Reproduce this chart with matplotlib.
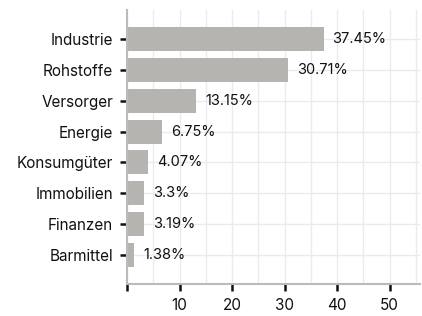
import numpy as np
import matplotlib.pyplot as plt
from matplotlib.ticker import MultipleLocator

categories = ["Industrie", "Rohstoffe", "Versorger", "Energie",
              "Konsumgüter", "Immobilien", "Finanzen", "Barmittel"]
values = [37.45, 30.71, 13.15, 6.75, 4.07, 3.3, 3.19, 1.38]
labels = ["37.45%", "30.71%", "13.15%", "6.75%", "4.07%", "3.3%", "3.19%", "1.38%"]
xticks = [0, 10, 20, 30, 40, 50]

plt.rcParams['font.family'] = ['Inter', 'DejaVu Sans']

fig = plt.figure(figsize=(4.22, 3.16), dpi=100)
ax = fig.add_axes([127 / 422, 1 - 284 / 316, 293 / 422, 274 / 316])

y = np.arange(len(categories))
ax.barh(y, values, height=0.78, color="#b5b4b0", zorder=2)
for yi, v, lab in zip(y, values, labels):
    ax.text(v + 1.7, yi, lab, va="center", ha="left", fontsize=10.5, color="#111111")

ax.set_xlim(0, 55.8)
ax.set_ylim(len(categories) - 1 + 0.94, -0.94)
ax.set_yticks(y)
ax.set_yticklabels(categories, fontsize=11, color="#111111")
ax.set_xticks(xticks)
ax.set_xticklabels([""] + [str(t) for t in xticks[1:]], fontsize=11, color="#111111")
ax.xaxis.set_minor_locator(MultipleLocator(5))

ax.grid(True, which="both", axis="x", color="#ebebeb", linewidth=1, zorder=0)
ax.grid(True, which="major", axis="y", color="#ebebeb", linewidth=1, zorder=0)
ax.tick_params(axis="x", which="minor", length=0)
ax.tick_params(axis="both", which="major", length=5, width=1.8, color="#111111")
ax.tick_params(axis="x", pad=5)
ax.tick_params(axis="y", pad=5)

for side in ["top", "right"]:
    ax.spines[side].set_visible(False)
for side in ["left", "bottom"]:
    ax.spines[side].set_color("#bbbbbb")
    ax.spines[side].set_linewidth(1.5)

fig.savefig("out.png", dpi=100)
